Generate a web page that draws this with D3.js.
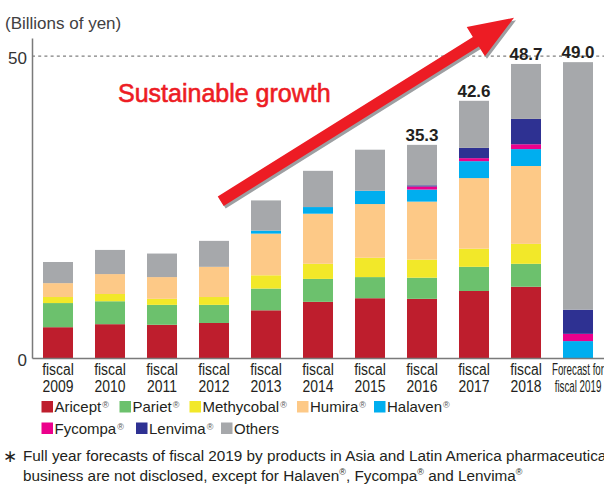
<!DOCTYPE html>
<html>
<head>
<meta charset="utf-8">
<script src="https://cdn.jsdelivr.net/npm/d3@7"></script>
<style>
  html, body { margin: 0; padding: 0; background: #fff; }
  svg { display: block; font-family: "Liberation Sans", Arial, Helvetica, sans-serif; }
</style>
</head>
<body>
<svg id="chart" width="604" height="484"></svg>
<script>
// Revenue by product, billions of yen
const categories = ["2009", "2010", "2011", "2012", "2013", "2014", "2015", "2016", "2017", "2018", "2019F"];
const tickLabels = [
  ["fiscal", "2009"], ["fiscal", "2010"], ["fiscal", "2011"], ["fiscal", "2012"],
  ["fiscal", "2013"], ["fiscal", "2014"], ["fiscal", "2015"], ["fiscal", "2016"],
  ["fiscal", "2017"], ["fiscal", "2018"], ["Forecast for", "fiscal 2019"]
];
const aricept    = [5.1, 5.6, 5.5, 5.8, 7.9, 9.3, 9.9, 9.8, 11.1, 11.8, 0];
const pariet     = [4.0, 3.8, 3.3, 3.0, 3.6, 3.8, 3.5, 3.5, 4.0, 3.8, 0];
const methycobal = [1.0, 1.2, 1.0, 1.3, 2.2, 2.5, 3.2, 3.0, 3.0, 3.3, 0];
const humira     = [2.3, 3.3, 3.6, 5.0, 6.9, 8.3, 8.9, 9.6, 11.7, 12.9, 0];
const halaven    = [0, 0, 0, 0, 0.5, 1.1, 2.2, 2.0, 2.8, 2.8, 2.8];
const fycompa    = [0, 0, 0, 0, 0, 0, 0, 0.5, 0.5, 0.8, 1.2];
const lenvima    = [0, 0, 0, 0, 0, 0, 0, 0.2, 1.7, 4.2, 4.0];
const others     = [3.5, 4.0, 3.9, 4.3, 5.0, 6.0, 6.8, 6.7, 7.8, 9.1, 41.0];
const labeledCategories = ["2016", "2017", "2018", "2019F"];
const yTicks = [0, 50];

const series = [
  { key: "Aricept",    name: "Aricept",    values: aricept,    color: "#be1e2d" },
  { key: "Pariet",     name: "Pariet",     values: pariet,     color: "#6cc16d" },
  { key: "Methycobal", name: "Methycobal", values: methycobal, color: "#f2e829" },
  { key: "Humira",     name: "Humira",     values: humira,     color: "#fdc987" },
  { key: "Halaven",    name: "Halaven",    values: halaven,    color: "#00aeef" },
  { key: "Fycompa",    name: "Fycompa",    values: fycompa,    color: "#ec008c" },
  { key: "Lenvima",    name: "Lenvima",    values: lenvima,    color: "#2e3192" },
  { key: "Others",     name: "Others",     values: others,     color: "#a6a8ab" }
];

const rows = categories.map((c, i) => {
  const r = { category: c };
  series.forEach(s => { r[s.key] = s.values[i]; });
  return r;
});

const svg = d3.select("#chart");
const textColor = "#231f20";
const axisColor = "#7a7a7a";

const x = d3.scaleBand().domain(categories).range([32, 604]).paddingInner(0.423).paddingOuter(0.2115);
const y = d3.scaleLinear().domain([0, 53]).range([358, 38]);

const stack = d3.stack().keys(series.map(s => s.key));
const stacked = stack(rows);

// Unit label
svg.append("text")
  .attr("x", 5).attr("y", 29)
  .attr("font-size", 17).attr("fill", "#414042")
  .text("(Billions of yen)");

// Dashed reference at 50
svg.append("line")
  .attr("x1", x.range()[0]).attr("x2", 604)
  .attr("y1", y(50)).attr("y2", y(50))
  .attr("stroke", "#808080").attr("stroke-width", 1.2)
  .attr("stroke-dasharray", "3,3.2");

// Stacked bars
svg.append("g").selectAll("g")
  .data(stacked)
  .join("g")
  .attr("fill", (d, i) => series[i].color)
  .selectAll("rect")
  .data(d => d.filter(p => p[1] - p[0] > 0))
  .join("rect")
  .attr("x", d => x(d.data.category))
  .attr("width", x.bandwidth())
  .attr("y", d => y(d[1]))
  .attr("height", d => y(d[0]) - y(d[1]));

// Totals above selected bars
const totalOf = c => d3.sum(series, s => s.values[categories.indexOf(c)]);
svg.append("g").selectAll("text")
  .data(labeledCategories)
  .join("text")
  .attr("x", c => x(c) + x.bandwidth() / 2)
  .attr("y", c => y(totalOf(c)) - 4)
  .attr("text-anchor", "middle")
  .attr("font-size", 17).attr("font-weight", "bold")
  .attr("fill", textColor)
  .text(c => d3.format(".1f")(totalOf(c)));

// Y axis
const yAxis = svg.append("g")
  .attr("transform", `translate(${x.range()[0]},0)`)
  .call(d3.axisLeft(y).tickValues(yTicks).tickSize(0).tickSizeOuter(0).tickPadding(5));
yAxis.select(".domain").attr("stroke", axisColor).attr("stroke-width", 1.5);
yAxis.selectAll("text")
  .attr("font-size", 17).attr("fill", "#333")
  .attr("font-family", "Liberation Sans, Arial, sans-serif")
  .attr("dy", "0.42em");

// X axis
const xAxis = svg.append("g")
  .attr("transform", `translate(0,${y(0)})`)
  .call(d3.axisBottom(x).tickSize(0).tickSizeOuter(0).tickFormat(""));
xAxis.select(".domain").attr("stroke", axisColor).attr("stroke-width", 1.5);

xAxis.selectAll(".tick").each(function (c, i) {
  const lines = tickLabels[i];
  const forecast = c === "2019F";
  const g = d3.select(this);
  lines.forEach((line, j) => {
    g.append("text")
      .attr("transform", `translate(0,${17 + j * 17}) scale(${forecast ? 0.61 : 0.87},1)`)
      .attr("text-anchor", "middle")
      .attr("font-size", 16)
      .attr("fill", textColor)
      .text(line);
  });
});

// Growth arrow with drop shadow
const tail = [220.7, 201.2], tip = [514, 17.8];
const len = Math.hypot(tip[0] - tail[0], tip[1] - tail[1]);
const ang = Math.atan2(tip[1] - tail[1], tip[0] - tail[0]) * 180 / Math.PI;
const headLen = 45, headHalf = 17.2, shaftHalf = 5.6;
const arrowPts = [
  [0, -shaftHalf], [len - headLen, -shaftHalf], [len - headLen, -headHalf],
  [len, 0], [len - headLen, headHalf], [len - headLen, shaftHalf], [0, shaftHalf]
];
const arrowPath = d3.line()(arrowPts) + "Z";
svg.append("path")
  .attr("d", arrowPath)
  .attr("transform", `translate(${tail[0] + 2},${tail[1] + 2.5}) rotate(${ang})`)
  .attr("fill", "#9d9fa2");
svg.append("path")
  .attr("d", arrowPath)
  .attr("transform", `translate(${tail[0]},${tail[1]}) rotate(${ang})`)
  .attr("fill", "#ed1c24");

svg.append("text")
  .attr("x", 118).attr("y", 102)
  .attr("font-size", 25).attr("fill", "#ed1c24")
  .attr("stroke", "#ed1c24").attr("stroke-width", 0.6)
  .text("Sustainable growth");

// Legend
const legendPos = [
  [41.5, 401], [119.5, 401], [189.5, 401], [297, 401], [374, 401],
  [41.5, 422.5], [136, 422.5], [221, 422.5]
];
const legend = svg.append("g").selectAll("g")
  .data(series)
  .join("g")
  .attr("transform", (d, i) => `translate(${legendPos[i][0]},${legendPos[i][1]})`);
legend.append("rect")
  .attr("width", 11.5).attr("height", 11.5)
  .attr("fill", d => d.color);
const lt = legend.append("text")
  .attr("x", 13).attr("y", 11.3)
  .attr("font-size", 15).attr("fill", textColor);
lt.append("tspan").text(d => d.name);
lt.filter(d => d.key !== "Others").append("tspan")
  .attr("font-size", 9).attr("dy", -4).attr("dx", 1)
  .attr("fill", "#555")
  .text("®");

// Footnote
svg.append("text")
  .attr("x", 3).attr("y", 462)
  .attr("font-size", 17).attr("fill", textColor)
  .text("∗");
svg.append("text")
  .attr("x", 23).attr("y", 461)
  .attr("font-size", 15.3).attr("fill", textColor)
  .text("Full year forecasts of fiscal 2019 by products in Asia and Latin America pharmaceutical");
const fn2 = svg.append("text")
  .attr("x", 23).attr("y", 481)
  .attr("font-size", 15.3).attr("fill", textColor);
const fnParts = ["business are not disclosed, except for Halaven", ", Fycompa", " and Lenvima"];
fnParts.forEach((t, i) => {
  fn2.append("tspan").attr("dy", i === 0 ? 0 : 6).text(t);
  fn2.append("tspan").attr("font-size", 9).attr("dy", -6).text("®");
});
</script>
</body>
</html>
